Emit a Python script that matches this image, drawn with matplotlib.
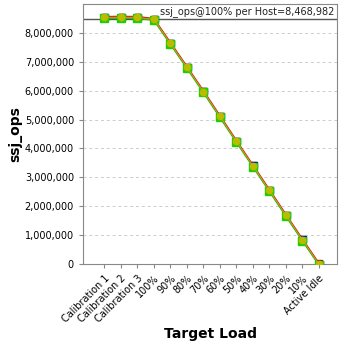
import numpy as np
import matplotlib.pyplot as plt
from matplotlib.ticker import FuncFormatter

categories = ['Calibration 1', 'Calibration 2', 'Calibration 3', '100%', '90%', '80%',
              '70%', '60%', '50%', '40%', '30%', '20%', '10%', 'Active Idle']
ssj_ops = [8540000, 8545000, 8540000, 8468982, 7640000, 6810000, 5970000,
           5110000, 4250000, 3400000, 2550000, 1690000, 840000, 0]
host_ops_100 = 8468982

fig = plt.figure(figsize=(3.48, 3.48), dpi=100)
ax = fig.add_axes([83/348, 84/348, 254/348, 260/348])

x = np.arange(len(categories))
# overlapping series, drawn bottom to top
ax.plot(x, np.array(ssj_ops) + 20000, color='#dd0000', lw=1.2, marker='s', ms=5, mfc='#dd0000', mec='#dd0000', zorder=3)
ax.plot(x + 0.05, np.array(ssj_ops) + 15000, color='none', marker='s', ms=4, mfc='#0000cc', mec='#0000cc', zorder=3)
ax.plot(x, np.array(ssj_ops) - 30000, color='#22bb00', lw=1.2, marker='s', ms=5.5, mfc='#22cc00', mec='#22cc00', zorder=4)
ax.plot(x, ssj_ops, color='#cc9922', lw=0.8, marker='o', ms=4.5, mfc='#bbbb00', mec='#bbbb00', zorder=5)

ax.axhline(host_ops_100, color='#555555', lw=1, zorder=2)
ax.text(0.99, (host_ops_100 + 9000000) / 2 / 9000000, 'ssj_ops@100% per Host=8,468,982',
        transform=ax.transAxes, ha='right', va='center', fontsize=7, color='#222222')

ax.set_xlim(-1.3, len(categories) - 1 + 1.1)
ax.set_ylim(0, 9000000)
ax.set_yticks(np.arange(0, 8000001, 1000000))
ax.yaxis.set_major_formatter(FuncFormatter(lambda v, p: '{:,.0f}'.format(v)))
ax.set_xticks(x)
ax.set_xticklabels(categories, rotation=45, ha='right', rotation_mode='anchor', fontsize=7)
ax.tick_params(axis='y', labelsize=7, length=3, color='#888888')
ax.tick_params(axis='x', length=3, color='#888888')
ax.grid(axis='y', color='#cccccc', ls=(0, (3, 3)), lw=0.7)
for s in ax.spines.values():
    s.set_color('#888888')

ax.set_ylabel('ssj_ops', fontsize=10, fontweight='bold', labelpad=2)
ax.set_xlabel('Target Load', fontsize=10, fontweight='bold', labelpad=2)

fig.savefig('out.png', dpi=100)
